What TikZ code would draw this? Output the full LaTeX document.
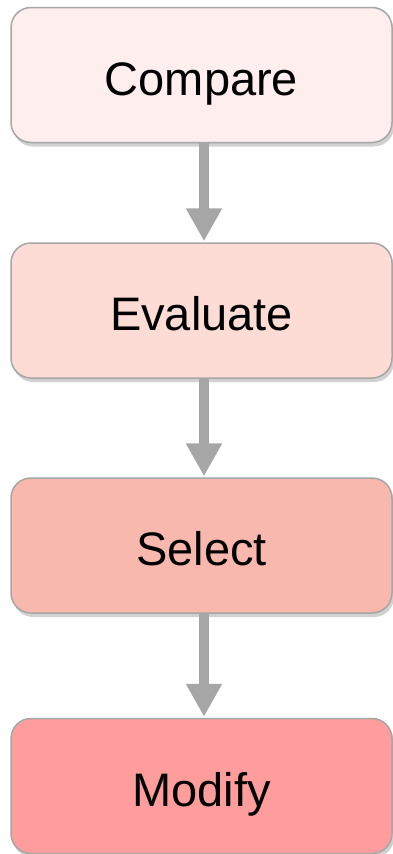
\documentclass[tikz,border=0pt]{standalone}
\usepackage{fontspec}
\setmainfont{Liberation Sans}
\usetikzlibrary{arrows.meta,shadows}
\definecolor{cA}{HTML}{FFEEEE}
\definecolor{cB}{HTML}{FCDCD5}
\definecolor{cC}{HTML}{F8B8AD}
\definecolor{cD}{HTML}{FF9D9D}
\definecolor{edgegray}{HTML}{A6A6A6}
\definecolor{arrowgray}{HTML}{A6A6A6}
\tikzset{
  stepbox/.style={draw=edgegray, line width=1.5pt, rounded corners=20pt,
    minimum width=381pt, minimum height=135pt, inner sep=0pt,
    text height=40pt, text depth=0pt,
    font=\fontsize{47}{50}\selectfont,
    drop shadow={shadow xshift=2pt, shadow yshift=-4pt, opacity=0.18, fill=black}},
  flow/.style={draw=arrowgray, line width=10pt, -{Triangle[width=34pt,length=33pt]}, shorten >=1pt}
}
\begin{document}
\begin{tikzpicture}[x=1pt,y=-1pt]
\useasboundingbox[fill=white] (0,0) rectangle (393,854);
\node[stepbox, fill=cA] (a) at (201.5,75) {Compare};
\node[stepbox, fill=cB] (b) at (201.5,310.5) {Evaluate};
\node[stepbox, fill=cC] (c) at (201.5,545.5) {Select};
\node[stepbox, fill=cD] (d) at (201.5,786) {Modify};
\draw[flow] ([xshift=2.5pt]a.south) -- ([xshift=2.5pt]b.north);
\draw[flow] ([xshift=2.5pt]b.south) -- ([xshift=2.5pt]c.north);
\draw[flow] ([xshift=2.5pt]c.south) -- ([xshift=2.5pt]d.north);
\end{tikzpicture}
\end{document}
